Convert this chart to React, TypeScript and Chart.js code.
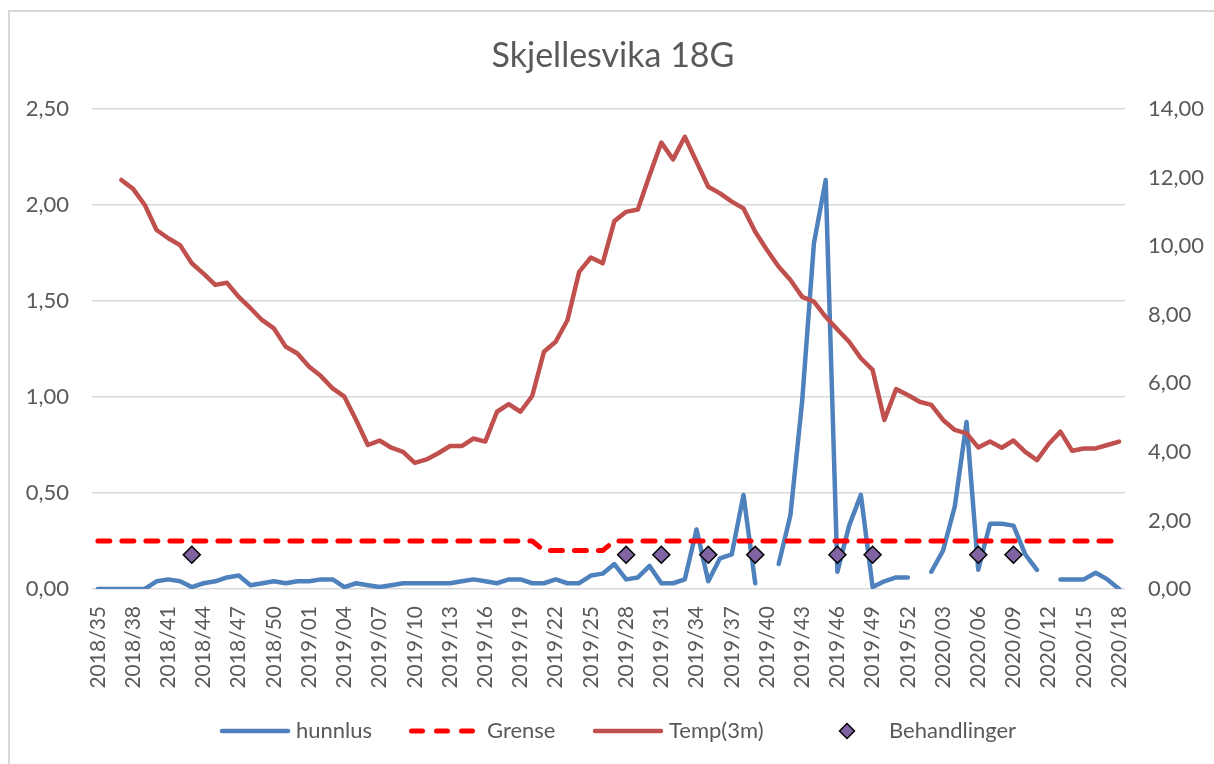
import React, { useEffect, useRef } from 'react';
import { Chart, registerables } from 'chart.js';

Chart.register(...registerables);

// ---------- DATA ----------
const weekLabels: string[] = [
  '2018/35', '2018/36', '2018/37', '2018/38', '2018/39', '2018/40', '2018/41', '2018/42', '2018/43',
  '2018/44', '2018/45', '2018/46', '2018/47', '2018/48', '2018/49', '2018/50', '2018/51', '2018/52',
  '2019/01', '2019/02', '2019/03', '2019/04', '2019/05', '2019/06', '2019/07', '2019/08', '2019/09',
  '2019/10', '2019/11', '2019/12', '2019/13', '2019/14', '2019/15', '2019/16', '2019/17', '2019/18',
  '2019/19', '2019/20', '2019/21', '2019/22', '2019/23', '2019/24', '2019/25', '2019/26', '2019/27',
  '2019/28', '2019/29', '2019/30', '2019/31', '2019/32', '2019/33', '2019/34', '2019/35', '2019/36',
  '2019/37', '2019/38', '2019/39', '2019/40', '2019/41', '2019/42', '2019/43', '2019/44', '2019/45',
  '2019/46', '2019/47', '2019/48', '2019/49', '2019/50', '2019/51', '2019/52',
  '2020/01', '2020/02', '2020/03', '2020/04', '2020/05', '2020/06', '2020/07', '2020/08', '2020/09',
  '2020/10', '2020/11', '2020/12', '2020/13', '2020/14', '2020/15', '2020/16', '2020/17', '2020/18',
];

const hunnlus: (number | null)[] = [
  0, 0, 0, 0, 0, 0.04, 0.05, 0.04, 0.01, 0.03,
  0.04, 0.06, 0.07, 0.02, 0.03, 0.04, 0.03, 0.04, 0.04, 0.05,
  0.05, 0.01, 0.03, 0.02, 0.01, 0.02, 0.03, 0.03, 0.03, 0.03,
  0.03, 0.04, 0.05, 0.04, 0.03, 0.05, 0.05, 0.03, 0.03, 0.05,
  0.03, 0.03, 0.07, 0.08, 0.13, 0.05, 0.06, 0.12, 0.03, 0.03,
  0.05, 0.31, 0.04, 0.16, 0.18, 0.49, 0.03, null, 0.13, 0.385,
  0.98, 1.80, 2.13, 0.09, 0.33, 0.49, 0.01, 0.04, 0.06, 0.06,
  null, 0.09, 0.2, 0.43, 0.87, 0.1, 0.34, 0.34, 0.33, 0.18,
  0.1, null, 0.05, 0.05, 0.05, 0.085, 0.05, 0,
];

const grense: number[] = [
  0.25, 0.25, 0.25, 0.25, 0.25, 0.25, 0.25, 0.25, 0.25, 0.25,
  0.25, 0.25, 0.25, 0.25, 0.25, 0.25, 0.25, 0.25, 0.25, 0.25,
  0.25, 0.25, 0.25, 0.25, 0.25, 0.25, 0.25, 0.25, 0.25, 0.25,
  0.25, 0.25, 0.25, 0.25, 0.25, 0.25, 0.25, 0.25, 0.2, 0.2,
  0.2, 0.2, 0.2, 0.2, 0.25, 0.25, 0.25, 0.25, 0.25, 0.25,
  0.25, 0.25, 0.25, 0.25, 0.25, 0.25, 0.25, 0.25, 0.25, 0.25,
  0.25, 0.25, 0.25, 0.25, 0.25, 0.25, 0.25, 0.25, 0.25, 0.25,
  0.25, 0.25, 0.25, 0.25, 0.25, 0.25, 0.25, 0.25, 0.25, 0.25,
  0.25, 0.25, 0.25, 0.25, 0.25, 0.25, 0.25, 0.25,
];

const temp3m: (number | null)[] = [
  null, null, 11.93, 11.67, 11.2, 10.47, 10.23, 10.03, 9.5, 9.2,
  8.87, 8.93, 8.52, 8.19, 7.84, 7.6, 7.07, 6.87, 6.48, 6.21,
  5.85, 5.61, 4.93, 4.2, 4.33, 4.12, 4.0, 3.68, 3.78, 3.96,
  4.17, 4.17, 4.39, 4.3, 5.17, 5.39, 5.17, 5.63, 6.92, 7.21,
  7.84, 9.25, 9.67, 9.5, 10.73, 11.0, 11.07, 12.07, 13.02, 12.53,
  13.19, 12.46, 11.73, 11.54, 11.3, 11.1, 10.42, 9.89, 9.4, 9.01,
  8.52, 8.38, 7.94, 7.57, 7.21, 6.73, 6.39, 4.93, 5.83, 5.66,
  5.46, 5.37, 4.93, 4.64, 4.54, 4.13, 4.3, 4.12, 4.33, 4.0,
  3.76, 4.23, 4.59, 4.03, 4.1, 4.1, 4.2, 4.3,
];

const behandlingWeeks: string[] = [
  '2018/43', '2019/28', '2019/31', '2019/35', '2019/39', '2019/46', '2019/49', '2020/06', '2020/09',
];
const behandlingValue = 1;

const leftAxis = { min: 0, max: 2.5, step: 0.5 };
const rightAxis = { min: 0, max: 14, step: 2 };

// ---------- STYLE ----------
const FONT = 'Lato, "Open Sans", "Noto Sans", sans-serif';
const TEXT = '#595959';
const BLUE = '#4F81BD';
const RED = '#FF0000';
const BROWN = '#C0504D';
const PURPLE = '#8064A2';

const fmt = (v: number | string) => Number(v).toFixed(2).replace('.', ',');

const titlePlugin = {
  id: 'excelTitle',
  afterDraw(chart: any) {
    const ctx = chart.ctx as CanvasRenderingContext2D;
    ctx.save();
    ctx.font = `34px ${FONT}`;
    ctx.fillStyle = TEXT;
    ctx.textAlign = 'center';
    ctx.textBaseline = 'alphabetic';
    ctx.fillText('Skjellesvika 18G', 613, 67);
    ctx.restore();
  },
};

const legendPlugin = {
  id: 'excelLegend',
  afterDraw(chart: any) {
    const ctx = chart.ctx as CanvasRenderingContext2D;
    const y = 731;
    ctx.save();
    ctx.lineCap = 'round';
    // hunnlus
    ctx.setLineDash([]);
    ctx.strokeStyle = BLUE;
    ctx.lineWidth = 4.5;
    ctx.beginPath();
    ctx.moveTo(222, y);
    ctx.lineTo(288, y);
    ctx.stroke();
    // Grense
    ctx.strokeStyle = RED;
    ctx.lineWidth = 5;
    ctx.setLineDash([11, 14]);
    ctx.beginPath();
    ctx.moveTo(411.5, y);
    ctx.lineTo(473, y);
    ctx.stroke();
    // Temp
    ctx.setLineDash([]);
    ctx.strokeStyle = BROWN;
    ctx.lineWidth = 4.5;
    ctx.beginPath();
    ctx.moveTo(595, y);
    ctx.lineTo(661, y);
    ctx.stroke();
    // diamond
    const dx = 847;
    const r = 7.5;
    ctx.beginPath();
    ctx.moveTo(dx - r, y);
    ctx.lineTo(dx, y - r);
    ctx.lineTo(dx + r, y);
    ctx.lineTo(dx, y + r);
    ctx.closePath();
    ctx.fillStyle = PURPLE;
    ctx.fill();
    ctx.lineWidth = 1.5;
    ctx.strokeStyle = '#000';
    ctx.lineJoin = 'miter';
    ctx.stroke();
    // texts
    ctx.font = `22px ${FONT}`;
    ctx.fillStyle = TEXT;
    ctx.textAlign = 'left';
    ctx.textBaseline = 'middle';
    ctx.fillText('hunnlus', 296, y);
    ctx.fillText('Grense', 487, y);
    ctx.fillText('Temp(3m)', 669, y);
    ctx.fillText('Behandlinger', 889, y);
    ctx.restore();
  },
};

export default function App() {
  const canvasRef = useRef<HTMLCanvasElement | null>(null);

  useEffect(() => {
    let chart: Chart | null = null;
    let cancelled = false;
    const build = () => {
      if (cancelled || !canvasRef.current) return;
      const behandlinger = weekLabels.map((w) => (behandlingWeeks.includes(w) ? behandlingValue : null));
      chart = new Chart(canvasRef.current, {
        type: 'line',
        data: {
          labels: weekLabels,
          datasets: [
            {
              label: 'hunnlus',
              data: hunnlus,
              yAxisID: 'y',
              borderColor: BLUE,
              backgroundColor: BLUE,
              borderWidth: 4.5,
              pointRadius: 0,
              borderCapStyle: 'round',
              borderJoinStyle: 'round',
              spanGaps: false,
              tension: 0,
              order: 3,
            },
            {
              label: 'Grense',
              data: grense,
              yAxisID: 'y',
              borderColor: RED,
              backgroundColor: RED,
              borderWidth: 5,
              borderDash: [12, 12],
              pointRadius: 0,
              borderCapStyle: 'round',
              borderJoinStyle: 'round',
              tension: 0,
              order: 2,
            },
            {
              label: 'Temp(3m)',
              data: temp3m,
              yAxisID: 'y1',
              borderColor: BROWN,
              backgroundColor: BROWN,
              borderWidth: 4.5,
              pointRadius: 0,
              borderCapStyle: 'round',
              borderJoinStyle: 'round',
              tension: 0,
              order: 1,
            },
            {
              label: 'Behandlinger',
              data: behandlinger,
              yAxisID: 'y1',
              showLine: false,
              pointStyle: 'rectRot',
              pointRadius: 8.5,
              pointBorderWidth: 1.5,
              pointBackgroundColor: PURPLE,
              pointBorderColor: '#000000',
              borderColor: '#000000',
              backgroundColor: PURPLE,
              order: 0,
            },
          ],
        },
        options: {
          responsive: false,
          animation: false,
          events: [],
          layout: { padding: { top: 109, left: 0, right: 0, bottom: 0 } },
          plugins: {
            legend: { display: false },
            title: { display: false },
            tooltip: { enabled: false },
          },
          scales: {
            x: {
              type: 'category',
              offset: true,
              grid: { display: false, drawTicks: false },
              border: { display: false },
              ticks: {
                autoSkip: false,
                minRotation: 90,
                maxRotation: 90,
                padding: 17,
                color: TEXT,
                font: { family: FONT, size: 21 },
                callback: (_v: any, i: number) => (i % 3 === 0 ? weekLabels[i] : null),
              },
              afterFit: (s: any) => {
                s.height = 175;
              },
            },
            y: {
              position: 'left',
              min: leftAxis.min,
              max: leftAxis.max,
              grid: { color: '#D9D9D9', lineWidth: 1.5, drawTicks: false },
              border: { display: false },
              ticks: {
                stepSize: leftAxis.step,
                padding: 23,
                color: TEXT,
                font: { family: FONT, size: 22 },
                callback: (v: any) => fmt(v),
              },
              afterFit: (s: any) => {
                s.width = 92;
              },
            },
            y1: {
              position: 'right',
              min: rightAxis.min,
              max: rightAxis.max,
              grid: { display: false, drawTicks: false },
              border: { display: false },
              ticks: {
                stepSize: rightAxis.step,
                padding: 23,
                color: TEXT,
                font: { family: FONT, size: 22 },
                callback: (v: any) => fmt(v),
              },
              afterFit: (s: any) => {
                s.width = 89;
              },
            },
          },
        },
        plugins: [titlePlugin, legendPlugin],
      } as any);
    };
    const fontsReady = (document as any).fonts
      ? Promise.all([
          (document as any).fonts.load(`21px Lato`),
          (document as any).fonts.load(`34px Lato`),
        ]).catch(() => null)
      : Promise.resolve(null);
    fontsReady.then(build);
    return () => {
      cancelled = true;
      if (chart) chart.destroy();
    };
  }, []);

  return (
    <div
      style={{
        position: 'fixed',
        left: 0,
        top: 0,
        width: 1214,
        height: 764,
        overflow: 'hidden',
        background: '#ffffff',
      }}
    >
      <div
        style={{
          position: 'absolute',
          left: 8,
          top: 10,
          width: 1400,
          height: 900,
          borderLeft: '2px solid #D9D9D9',
          borderTop: '2px solid #D9D9D9',
        }}
      />
      <canvas
        ref={canvasRef}
        width={1214}
        height={764}
        style={{ position: 'absolute', left: 0, top: 0, width: 1214, height: 764 }}
      />
    </div>
  );
}
